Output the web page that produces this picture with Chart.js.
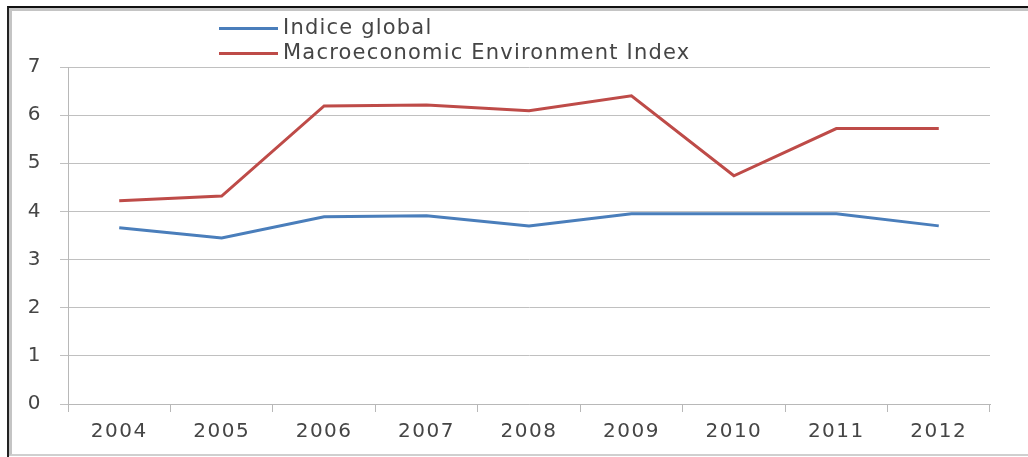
<!DOCTYPE html>
<html>
<head>
<meta charset="utf-8">
<script src="https://cdn.jsdelivr.net/npm/chart.js@4/dist/chart.umd.min.js"></script>
<style>
  body { margin: 0; background: #fff; overflow: hidden; }
  .wrap { position: relative; width: 1028px; height: 457px; overflow: hidden; }
  .frame { position: absolute; left: 7px; top: 6px; width: 1040px; bottom: 0;
           border-top: 2px solid #111; border-left: 2px solid #222; }
  .frame-inner { position: absolute; left: 0; top: 0; right: 0; bottom: 1px;
           border-top: 3px solid #c4c4c4; border-left: 3px solid #c4c4c4; border-bottom: 2px solid #cfcfcf; }
  canvas { position: absolute; left: 0; top: 0; }
  .legend { position: absolute; left: 219px; top: 15px; font-family: "DejaVu Sans", sans-serif;
            font-size: 21px; letter-spacing: 1.2px; color: #454545; }
  .legend div { height: 25px; line-height: 25px; white-space: nowrap; }
  .legend span.swatch { display: inline-block; width: 59px; height: 3px; vertical-align: middle;
            margin-right: 5px; position: relative; top: 0px; }
</style>
</head>
<body>
<div class="wrap">
  <div class="frame"><div class="frame-inner"></div></div>
  <canvas id="chart" width="1028" height="457"></canvas>
  <div class="legend" id="legend"></div>
</div>
<script>
const years = ['2004', '2005', '2006', '2007', '2008', '2009', '2010', '2011', '2012'];
const indiceGlobal = [3.66, 3.45, 3.89, 3.91, 3.70, 3.95, 3.95, 3.95, 3.70];
const macroIndex = [4.22, 4.32, 6.19, 6.21, 6.09, 6.40, 4.74, 5.72, 5.72];
const yTicks = [0, 1, 2, 3, 4, 5, 6, 7];

const seriesNames = ['Indice global', 'Macroeconomic Environment Index'];
const seriesColors = ['#4a7ebb', '#be4b48'];

const axisFont = { family: 'DejaVu Sans', size: 20 };

// wider spacing for the tick label text
const spacedText = {
  id: 'spacedText',
  beforeDraw: function (chart) { chart.ctx.letterSpacing = '1.5px'; }
};

const ctx = document.getElementById('chart').getContext('2d');
const chart = new Chart(ctx, {
  type: 'line',
  data: {
    labels: years,
    datasets: [
      { label: seriesNames[0], data: indiceGlobal, borderColor: seriesColors[0], backgroundColor: seriesColors[0],
        borderWidth: 3, pointRadius: 0, tension: 0, fill: false },
      { label: seriesNames[1], data: macroIndex, borderColor: seriesColors[1], backgroundColor: seriesColors[1],
        borderWidth: 3, pointRadius: 0, tension: 0, fill: false }
    ]
  },
  plugins: [spacedText],
  options: {
    responsive: false,
    animation: false,
    layout: { padding: { top: 67, right: 38, left: 0, bottom: 0 } },
    plugins: {
      legend: { display: false },
      tooltip: { enabled: false }
    },
    scales: {
      x: {
        offset: true,
        grid: { offset: true, drawOnChartArea: false, drawTicks: true, tickLength: 8, color: '#b8b8b8', lineWidth: 1 },
        border: { display: true, color: '#b8b8b8' },
        ticks: { color: '#454545', font: axisFont, padding: 8, maxRotation: 0 },
        afterFit: function (scale) { scale.height = 53; }
      },
      y: {
        min: 0,
        max: 7,
        afterBuildTicks: function (scale) { scale.ticks = yTicks.map(v => ({ value: v })); },
        grid: { color: '#c0c0c0', lineWidth: 1, tickLength: 8 },
        border: { display: true, color: '#b8b8b8' },
        ticks: { color: '#454545', font: axisFont, padding: 18 },
        afterFit: function (scale) { scale.width = 68; }
      }
    }
  }
});

// legend stacked in two rows above the plot
const legendEl = document.getElementById('legend');
chart.data.datasets.forEach(function (ds) {
  const row = document.createElement('div');
  row.innerHTML = '<span class="swatch" style="background:' + ds.borderColor + '"></span>' + ds.label;
  legendEl.appendChild(row);
});
</script>
</body>
</html>
